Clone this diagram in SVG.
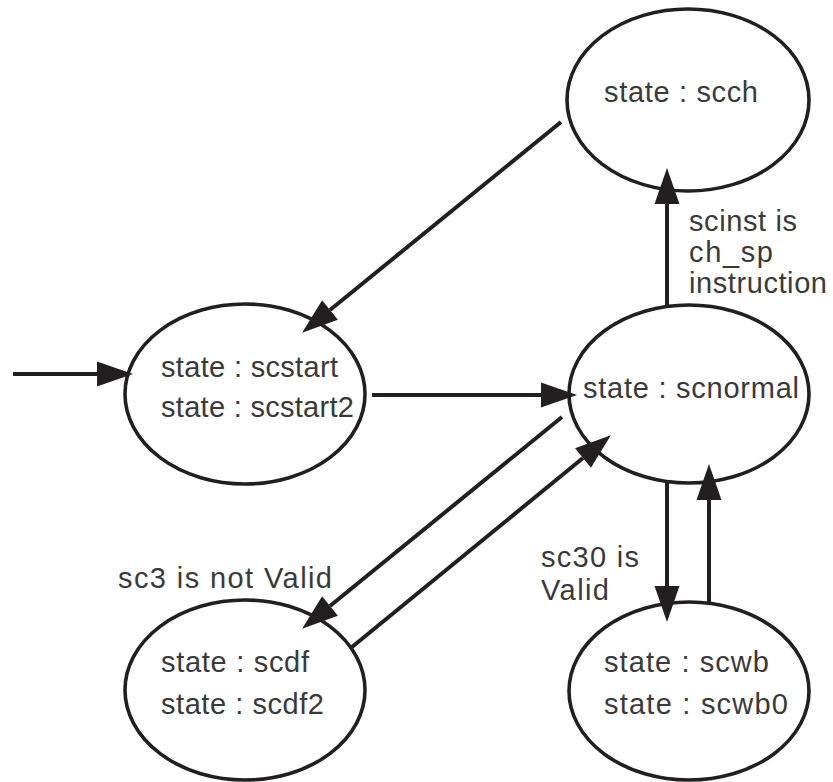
<svg xmlns="http://www.w3.org/2000/svg" width="833" height="782" viewBox="0 0 833 782">
<defs>
<marker id="ah" markerUnits="userSpaceOnUse" markerWidth="36" markerHeight="25" refX="0" refY="12.5" orient="auto" overflow="visible">
<path d="M0,0 L36,12.5 L0,25 z" fill="#231f20"/>
</marker>
<style>
.n{fill:#fff;stroke:#231f20;stroke-width:3.6}
.t{font-family:"Liberation Sans",Arial,sans-serif;font-size:29px;fill:#3a3a3a}
.e{stroke:#231f20;stroke-width:4;fill:none}
</style>
</defs>
<rect width="833" height="782" fill="#fff"/>
<g id="scch"><ellipse class="n" cx="688" cy="100" rx="121" ry="91"/><text class="t" x="604" y="102" textLength="154" lengthAdjust="spacing">state : scch</text></g>
<g id="scstart"><ellipse class="n" cx="245" cy="394" rx="120" ry="90"/><text class="t" x="161" y="377" textLength="177" lengthAdjust="spacing">state : scstart</text><text class="t" x="161" y="417" textLength="193" lengthAdjust="spacing">state : scstart2</text></g>
<g id="scnormal"><ellipse class="n" cx="689" cy="394" rx="120" ry="89"/><text class="t" x="583" y="398" textLength="216" lengthAdjust="spacing">state : scnormal</text></g>
<g id="scdf"><ellipse class="n" cx="245" cy="690" rx="120" ry="90"/><text class="t" x="161" y="672" textLength="148" lengthAdjust="spacing">state : scdf</text><text class="t" x="161" y="714" textLength="163" lengthAdjust="spacing">state : scdf2</text></g>
<g id="scwb"><ellipse class="n" cx="689" cy="691" rx="120" ry="89"/><text class="t" x="604" y="672" textLength="165" lengthAdjust="spacing">state : scwb</text><text class="t" x="604" y="714" textLength="184" lengthAdjust="spacing">state : scwb0</text></g>
<g id="connectors">
<line class="e" x1="561" y1="122" x2="330" y2="310" marker-end="url(#ah)"/>
<line class="e" x1="13" y1="374" x2="97" y2="374" marker-end="url(#ah)"/>
<line class="e" x1="667" y1="308" x2="667" y2="204" marker-end="url(#ah)"/>
<line class="e" x1="372" y1="395" x2="541" y2="395" marker-end="url(#ah)"/>
<line class="e" x1="562" y1="417" x2="330" y2="606" marker-end="url(#ah)"/>
<line class="e" x1="352" y1="647" x2="583" y2="458" marker-end="url(#ah)"/>
<line class="e" x1="667" y1="480" x2="667" y2="586" marker-end="url(#ah)"/>
<line class="e" x1="709" y1="605" x2="709" y2="500" marker-end="url(#ah)"/>
</g>
<g id="labels">
<text class="t" x="689" y="231" textLength="108" lengthAdjust="spacing">scinst is</text>
<text class="t" x="689" y="262" textLength="84" lengthAdjust="spacing">ch_sp</text>
<text class="t" x="689" y="293" textLength="138" lengthAdjust="spacing">instruction</text>
<text class="t" x="118" y="588" textLength="214" lengthAdjust="spacing">sc3 is not Valid</text>
<text class="t" x="541" y="567" textLength="98" lengthAdjust="spacing">sc30 is</text>
<text class="t" x="541" y="600" textLength="68" lengthAdjust="spacing">Valid</text>
</g>
</svg>
